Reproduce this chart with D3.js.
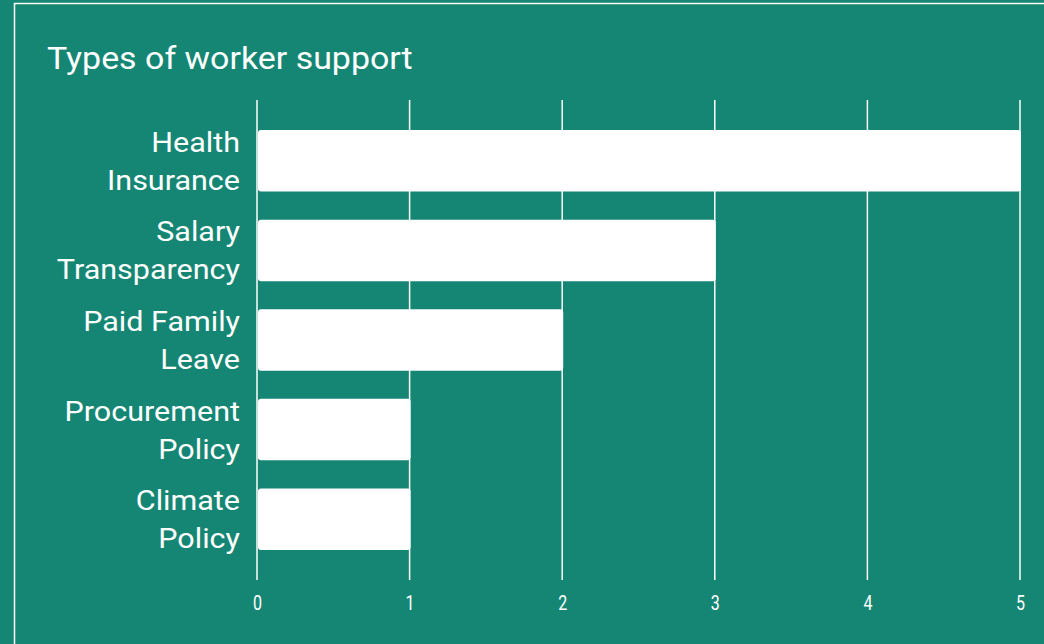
<!DOCTYPE html>
<html>
<head>
<meta charset="utf-8">
<script src="https://cdn.jsdelivr.net/npm/d3@7"></script>
<style>
  html, body { margin: 0; padding: 0; background: #168674; }
  svg { display: block; font-family: Roboto, "Noto Sans", sans-serif; }
</style>
</head>
<body>
<svg id="chart" width="1044" height="644"></svg>
<script>
// Support types and how many organisations offer each
const categories = [
  ["Health", "Insurance"],
  ["Salary", "Transparency"],
  ["Paid Family", "Leave"],
  ["Procurement", "Policy"],
  ["Climate", "Policy"]
];
const counts = [5, 3, 2, 1, 1];
const tickValues = [0, 1, 2, 3, 4, 5];
const title = "Types of worker support";

const W = 1044, H = 644;
const bg = "#168674";
const svg = d3.select("#chart");

svg.append("rect").attr("width", W).attr("height", H).attr("fill", bg);
// outer frame
svg.append("rect")
  .attr("x", 14.5).attr("y", 3.5)
  .attr("width", W + 10).attr("height", H + 10)
  .attr("fill", "none").attr("stroke", "#ffffff").attr("stroke-width", 1.5);

svg.append("text")
  .attr("transform", "translate(47,69) scale(1.06,1)")
  .attr("fill", "#ffffff")
  .attr("font-size", 32)
  .text(title);

const keys = categories.map(d => d.join(" "));
const x = d3.scaleLinear().domain([0, 5]).range([257, 1020]);
const y = d3.scaleBand().domain(keys).range([116, 564]).paddingInner(0.314).paddingOuter(0.157);

// vertical gridlines
svg.append("g").selectAll("line").data(tickValues).join("line")
  .attr("x1", d => x(d)).attr("x2", d => x(d))
  .attr("y1", 100).attr("y2", 580)
  .attr("stroke", "#ffffff").attr("stroke-width", 1.5);

// bars
svg.append("g").selectAll("rect").data(counts).join("rect")
  .attr("x", x(0) + 1)
  .attr("y", (d, i) => y(keys[i]))
  .attr("width", d => x(d) - x(0))
  .attr("height", y.bandwidth())
  .attr("rx", 3)
  .attr("fill", "#ffffff");

// x-axis tick labels
const xAxis = d3.axisBottom(x).tickValues(tickValues).tickSize(0).tickPadding(0).tickFormat(d3.format("d"));
const gx = svg.append("g").attr("transform", "translate(0,610)").call(xAxis);
gx.select(".domain").remove();
gx.selectAll("text")
  .attr("fill", "#ffffff")
  .attr("font-size", 20)
  .attr("font-family", "Roboto, sans-serif")
  .attr("dy", 0)
  .attr("y", 0)
  .attr("transform", "scale(0.8,1)");

// category labels, two lines each
const lbl = svg.append("g").selectAll("text").data(categories).join("text")
  .attr("text-anchor", "end")
  .attr("fill", "#ffffff")
  .attr("font-size", 27)
  .attr("transform", (d, i) => `translate(240,${y(keys[i]) + y.bandwidth() / 2 - 9}) scale(1.13,1)`);
lbl.selectAll("tspan").data(d => d).join("tspan")
  .attr("x", 0)
  .attr("y", (t, j) => j * 38)
  .text(t => t);
</script>
</body>
</html>
